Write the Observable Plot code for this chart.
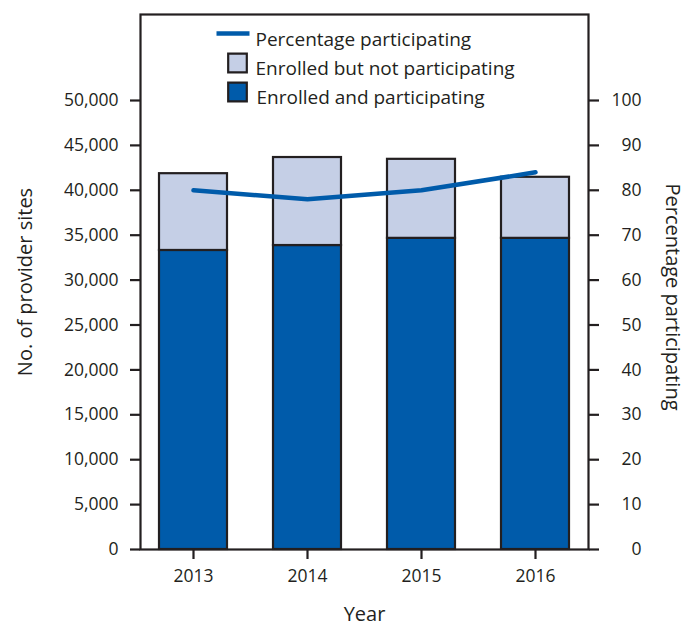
<!DOCTYPE html>
<html>
<head>
<meta charset="utf-8">
<script src="https://cdn.jsdelivr.net/npm/d3@7"></script>
<script src="https://cdn.jsdelivr.net/npm/@observablehq/plot@0.6"></script>
<style>
  html, body { margin: 0; padding: 0; background: #fff; }
</style>
</head>
<body>
<div id="chart"></div>
<script>
const years = ["2013", "2014", "2015", "2016"];
const participating = [33300, 33850, 34650, 34650];
const notParticipating = [8550, 9800, 8800, 6800];
const percentParticipating = [80, 78, 80, 84];
const leftTicks = [0, 5000, 10000, 15000, 20000, 25000, 30000, 35000, 40000, 45000, 50000];
const rightTickLabels = [0, 10, 20, 30, 40, 50, 60, 70, 80, 90, 100];
const categories = ["Enrolled and participating", "Enrolled but not participating"];
const colors = ["#005BAA", "#C5CFE6"];

const INK = "#231F20";
const PCT_FACTOR = 500; // 100% maps onto 50,000 on the shared axis

const rows = [];
years.forEach((y, i) => {
  rows.push({year: y, cat: categories[0], value: participating[i]});
  rows.push({year: y, cat: categories[1], value: notParticipating[i]});
});
const pctRows = years.map((y, i) => ({year: y, pct: percentParticipating[i]}));

const lineSymbol = {
  draw(ctx) { ctx.moveTo(-16.5, 0); ctx.lineTo(16.5, 0); }
};

const chart = Plot.plot({
  width: 689,
  height: 629,
  marginTop: 14,
  marginBottom: 80,
  marginLeft: 140,
  marginRight: 101,
  style: {fontFamily: "'Open Sans', sans-serif", fontSize: "17.5px", color: INK, background: "#fff"},
  x: {domain: years, paddingInner: 0.4, paddingOuter: 0.15, axis: null},
  y: {domain: [0, 50000 * 535 / 449], axis: null},
  color: {domain: categories, range: colors},
  marks: [
    Plot.barY(rows, {x: "year", y: "value", fill: "cat", stroke: INK, strokeWidth: 2.2}),
    Plot.lineY(pctRows, {x: "year", y: d => d.pct * PCT_FACTOR, stroke: "#005BAA", strokeWidth: 4.5}),
    Plot.frame({stroke: INK, strokeWidth: 2.2}),
    Plot.axisY({anchor: "left", ticks: leftTicks, tickFormat: d3.format(","), tickSize: 10, tickPadding: 12, stroke: INK, strokeWidth: 2.2, fill: INK, label: null}),
    Plot.axisY({anchor: "right", ticks: rightTickLabels.map(v => v * PCT_FACTOR), tickFormat: d => d / PCT_FACTOR, tickSize: 10, tickPadding: 43, textAnchor: "end", stroke: INK, strokeWidth: 2.2, fill: INK, label: null}),
    Plot.axisX({tickSize: 10, tickPadding: 10, stroke: INK, strokeWidth: 2.2, fill: INK, label: null}),
    Plot.text(["No. of provider sites"], {frameAnchor: "left", textAnchor: "middle", rotate: -90, dx: -115, fill: INK, fontSize: 20}),
    Plot.text(["Percentage participating"], {frameAnchor: "right", textAnchor: "middle", rotate: 90, dx: 84, dy: 15, fill: INK, fontSize: 20}),
    Plot.text(["Year"], {frameAnchor: "bottom", dy: 71, fill: INK, fontSize: 20}),
    // legend
    Plot.dot([0], {frameAnchor: "top-left", dx: 92.5, dy: 19, symbol: lineSymbol, stroke: "#005BAA", strokeWidth: 4.5, fill: "none"}),
    Plot.dot([0], {frameAnchor: "top-left", dx: 97, dy: 48.5, symbol: "square", r: 10.5, fill: colors[1], stroke: INK, strokeWidth: 2.2}),
    Plot.dot([0], {frameAnchor: "top-left", dx: 97, dy: 77.5, symbol: "square", r: 10.5, fill: colors[0], stroke: INK, strokeWidth: 2.2}),
    Plot.text(["Percentage participating"], {frameAnchor: "top-left", dx: 115, dy: 18, textAnchor: "start", fill: INK, fontSize: 19}),
    Plot.text([categories[1]], {frameAnchor: "top-left", dx: 115, dy: 47, textAnchor: "start", fill: INK, fontSize: 19}),
    Plot.text([categories[0]], {frameAnchor: "top-left", dx: 116, dy: 76, textAnchor: "start", fill: INK, fontSize: 19})
  ]
});
document.getElementById("chart").appendChild(chart);
</script>
</body>
</html>
